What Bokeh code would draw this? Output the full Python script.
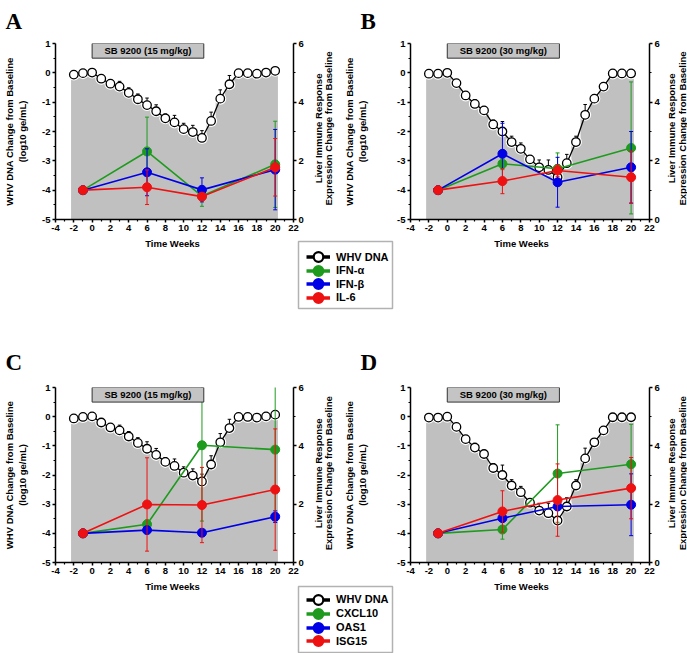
import math
from bokeh.plotting import figure
from bokeh.models import (Range1d, LinearAxis, FixedTicker, Label, Legend, LegendItem,
                          BoxAnnotation)
from bokeh.layouts import column, row
from bokeh.embed import file_html
from bokeh.resources import INLINE
from bokeh.core.properties import value

# ---------------- data ----------------
whv_weeks = list(range(-2, 21))
whv_15mg = [-0.06, -0.01, 0.01, -0.20, -0.37, -0.47, -0.68, -0.90, -1.10, -1.31, -1.55, -1.69,
            -1.92, -2.02, -2.22, -1.64, -0.88, -0.39, -0.01, -0.01, -0.03, 0.01, 0.07]
whv_15mg_err = [0.05, 0.0, 0.0, 0.05, 0.08, 0.18, 0.17, 0.18, 0.24, 0.22, 0.15, 0.24,
                0.20, 0.23, 0.25, 0.30, 0.30, 0.30, 0.05, 0.0, 0.08, 0.0, 0.0]
whv_30mg = [-0.03, -0.03, 0.00, -0.35, -0.77, -1.06, -1.28, -1.76, -2.00, -2.36, -2.59, -2.95,
            -3.22, -3.31, -3.56, -3.08, -2.36, -1.43, -0.88, -0.47, -0.02, -0.02, -0.02]
whv_30mg_err = [0.10, 0.0, 0.0, 0.0, 0.10, 0.15, 0.12, 0.15, 0.34, 0.20, 0.20, 0.10,
                0.25, 0.34, 0.10, 0.30, 0.20, 0.35, 0.10, 0.05, 0.10, 0.0, 0.0]

cyto_weeks = [-1, 6, 12, 20]

# Panel A (15 mg/kg) : IFN-alpha, IFN-beta, IL-6
a_ifna = [1.0, 2.32, 0.80, 1.88]
a_ifna_err = [0.0, 1.17, 0.35, 1.47]
a_ifnb = [1.0, 1.61, 1.01, 1.70]
a_ifnb_err = [0.0, 0.80, 0.41, 1.37]
a_il6 = [1.0, 1.10, 0.78, 1.78]
a_il6_err = [0.0, 0.59, 0.10, 0.98]

# Panel B (30 mg/kg)
b_ifna = [1.0, 1.90, 1.73, 2.44]
b_ifna_err = [0.0, 0.20, 0.54, 2.25]
b_ifnb = [1.0, 2.24, 1.27, 1.78]
b_ifnb_err = [0.0, 1.04, 0.85, 1.22]
b_il6 = [1.0, 1.31, 1.67, 1.44]
b_il6_err = [0.0, 0.43, 0.20, 0.89]

# Panel C (15 mg/kg) : CXCL10, OAS1, ISG15
c_cxcl10 = [1.0, 1.31, 4.02, 3.87]
c_cxcl10_err = [0.0, 0.15, 2.60, 2.40]
c_oas1 = [1.0, 1.11, 1.02, 1.57]
c_oas1_err = [0.0, 0.05, 0.05, 0.20]
c_isg15 = [1.0, 1.99, 1.97, 2.50]
c_isg15_err = [0.0, 1.60, 1.29, 2.08]

# Panel D (30 mg/kg)
d_cxcl10 = [1.0, 1.13, 3.05, 3.37]
d_cxcl10_err = [0.0, 0.33, 1.67, 1.37]
d_oas1 = [1.0, 1.52, 1.92, 1.98]
d_oas1_err = [0.0, 0.05, 0.10, 1.06]
d_isg15 = [1.0, 1.75, 2.14, 2.55]
d_isg15_err = [0.0, 0.71, 1.24, 1.05]

treatment_labels = ["SB 9200 (15 mg/kg)", "SB 9200 (30 mg/kg)"]
treatment_weeks = [0, 12.2]
treatment_box_y = [0.5, 1.0]

x_ticks = [-4, -2, 0, 2, 4, 6, 8, 10, 12, 14, 16, 18, 20, 22]
x_minor = [-3, -1, 1, 3, 5, 7, 9, 11, 13, 15, 17, 19, 21]
y_ticks = [-5, -4, -3, -2, -1, 0, 1]
y_minor = [-4.5, -3.5, -2.5, -1.5, -0.5, 0.5]
r_ticks = [0, 2, 4, 6]
r_minor = [1, 3, 5]

panel_letters = ["A", "B", "C", "D"]
left_axis_title = "WHV DNA Change from Baseline\n(log10 ge/mL)"
right_axis_lines = ["Liver Immune Response", "Expression Change from Baseline"]
x_axis_title = "Time Weeks"
legend1_labels = ["WHV DNA", "IFN-\u03b1", "IFN-\u03b2", "IL-6"]
legend2_labels = ["WHV DNA", "CXCL10", "OAS1", "ISG15"]

# ---------------- style ----------------
FONT = "Liberation Sans"
GREEN = "#1e9b1e"
BLUE = "#0000e6"
RED = "#ee1111"
GRAY = "#c0c0c0"
SERIES_COLORS = [GREEN, BLUE, RED]


def style_axis(ax, ticks, minor):
    ax.ticker = FixedTicker(ticks=ticks, minor_ticks=minor)
    ax.major_label_overrides = {t: str(t) for t in ticks}
    ax.axis_line_width = 1.5
    ax.axis_line_color = "black"
    ax.major_tick_line_width = 1.5
    ax.major_tick_line_color = "black"
    ax.minor_tick_line_width = 1.2
    ax.minor_tick_line_color = "black"
    ax.major_tick_in = 0
    ax.major_tick_out = 3
    ax.minor_tick_in = 0
    ax.minor_tick_out = 2
    ax.major_label_standoff = 2
    ax.major_label_text_font = FONT
    ax.major_label_text_font_style = "bold"
    ax.major_label_text_font_size = "9.5px"
    ax.major_label_text_color = "black"
    ax.axis_label_text_font = FONT
    ax.axis_label_text_font_style = "bold"
    ax.axis_label_text_font_size = "9.5px"
    ax.axis_label_text_color = "black"


def make_panel(dose_label, whv, whv_err, series, width, height,
               mb_left, mb_right, mb_top, mb_bottom, left_std):
    p = figure(width=width, height=height, x_range=Range1d(-4, 22), y_range=Range1d(-5, 1),
               output_backend="svg", toolbar_location=None,
               min_border_left=mb_left, min_border_right=mb_right,
               min_border_top=mb_top, min_border_bottom=mb_bottom)
    p.extra_y_ranges = {"right": Range1d(0, 6)}
    p.outline_line_color = None
    p.grid.visible = False
    p.background_fill_color = "white"
    p.border_fill_color = "white"

    style_axis(p.xaxis[0], x_ticks, x_minor)
    ly = p.yaxis[0]
    style_axis(ly, y_ticks, y_minor)
    ly.axis_label = left_axis_title
    ly.axis_label_standoff = left_std

    ry = LinearAxis(y_range_name="right")
    style_axis(ry, r_ticks, r_minor)
    p.add_layout(ry, "right")

    # grey area under the WHV DNA curve
    xa = [whv_weeks[0] - 0.3] + whv_weeks + [whv_weeks[-1] + 0.3]
    ya = [whv[0]] + whv + [whv[-1]]
    p.varea_step(x=xa, y1=[-5] * len(xa), y2=ya, step_mode="center",
                 fill_color=GRAY, fill_alpha=1.0)
    # white halo round the WHV markers
    p.scatter(whv_weeks, whv, marker="circle", size=12, fill_color="white", line_color=None)

    # WHV error bars (upward)
    ex = [w for w, e in zip(whv_weeks, whv_err) if e > 0]
    ey0 = [v for v, e in zip(whv, whv_err) if e > 0]
    ey1 = [v + e for v, e in zip(whv, whv_err) if e > 0]
    p.segment(x0=ex, y0=ey0, x1=ex, y1=ey1, line_color="black", line_width=1)
    p.scatter(ex, ey1, marker="dash", size=3.5, line_color="black", line_width=1)

    p.line(whv_weeks, whv, line_color="black", line_width=1.3)
    p.scatter(whv_weeks, whv, marker="circle", size=8.5, fill_color="white",
              line_color="black", line_width=1.3)

    for (vals, errs), col in zip(series, SERIES_COLORS):
        sx = [w for w, e in zip(cyto_weeks, errs) if e > 0]
        lo = [v - e for v, e in zip(vals, errs) if e > 0]
        hi = [v + e for v, e in zip(vals, errs) if e > 0]
        p.segment(x0=sx, y0=lo, x1=sx, y1=hi, line_color=col, line_width=1, y_range_name="right")
        p.scatter(sx + sx, lo + hi, marker="dash", size=4, line_color=col, line_width=1,
                  y_range_name="right")
        p.line(cyto_weeks, vals, line_color=col, line_width=1.6, y_range_name="right")
        p.scatter(cyto_weeks, vals, marker="circle", size=9, fill_color=col, line_color=col,
                  line_width=1, y_range_name="right")

    # treatment box
    p.quad(left=[treatment_weeks[0]], right=[treatment_weeks[1]],
           bottom=[treatment_box_y[0]], top=[treatment_box_y[1]],
           fill_color="#c4c4c4", line_color="#333333", line_width=1)
    p.text(x=[(treatment_weeks[0] + treatment_weeks[1]) / 2],
           y=[(treatment_box_y[0] + treatment_box_y[1]) / 2], text=[dose_label],
           text_font=value(FONT), text_font_style="bold", text_font_size="9.5px",
           text_align="center", text_baseline="middle", text_color="black")
    return p


def blank(width, height):
    b = figure(width=width, height=height, x_range=Range1d(0, width), y_range=Range1d(0, height),
               x_axis_type=None, y_axis_type=None, output_backend="svg",
               toolbar_location=None, min_border=0)
    b.outline_line_color = None
    b.grid.visible = False
    b.background_fill_color = "white"
    b.border_fill_color = "white"
    return b


def side_title(width, height, y_center, xs):
    s = blank(width, height)
    for x, txt in zip(xs, right_axis_lines):
        s.add_layout(Label(x=x, y=y_center, text=txt, angle=math.pi / 2, text_font=FONT,
                           text_font_style="bold", text_font_size="9.5px",
                           text_align="center", text_baseline="middle", text_color="black"))
    return s


TOTAL_W = 687
# column geometry
A_ML, A_FW, A_MR = 50, 244, 12
B_ML, B_FW, B_MR = 65, 245, 12
A_W = A_ML + A_FW + A_MR          # 306
SA_W = 340 - A_W                  # 34
B_W = B_ML + B_FW + B_MR          # 322
SB_W = TOTAL_W - 340 - B_W        # 25
TIME_X = [A_ML + A_FW / 2, 521]
LETTER_X = [5, 360]


def add_letters(b, letters, y):
    for lx, letter in zip(LETTER_X, letters):
        b.add_layout(Label(x=lx, y=y, text=letter, text_font="Liberation Serif",
                           text_font_style="bold", text_font_size="23px", text_align="left",
                           text_baseline="alphabetic", text_color="black"))


def add_time_labels(b, y):
    for cx in TIME_X:
        b.add_layout(Label(x=cx, y=y, text=x_axis_title, text_font=FONT,
                           text_font_style="bold", text_font_size="9.5px",
                           text_align="center", text_baseline="middle", text_color="black"))


def add_legend(b, labels, box, centers, glyph_left):
    frame = BoxAnnotation(left=box[0], right=box[1], bottom=box[2], top=box[3],
                          fill_color="white", fill_alpha=1.0, line_color="black",
                          line_width=1.5, level="underlay")
    b.add_layout(frame)
    nan = float("nan")
    styles = [("black", "white")] + [(c, c) for c in SERIES_COLORS]
    for lab, (lc, fc), cy in zip(labels, styles, centers):
        ln = b.line(x=[nan], y=[nan], line_color=lc, line_width=3.5)
        sc = b.scatter(x=[nan], y=[nan], marker="circle", size=10, fill_color=fc,
                       line_color=lc, line_width=2.2)
        leg = Legend(items=[LegendItem(label=lab, renderers=[ln, sc])],
                     location=(glyph_left, cy - 12.5), margin=0, padding=0, spacing=0,
                     glyph_width=24, glyph_height=25, label_height=25, label_width=50,
                     label_standoff=6, label_text_font=FONT, label_text_font_style="bold",
                     label_text_font_size="11px", label_text_color="black",
                     border_line_color=None, background_fill_alpha=0.0)
        b.add_layout(leg)


TOP_BAND_H = 33
ROW1_H = 203   # 10 + 176 + 17
BAND1_H = 138
ROW2_H = 205   # 13 + 175 + 17
BAND2_H = 74

band0 = blank(TOTAL_W, TOP_BAND_H)
add_letters(band0, panel_letters[:2], 12.5)

pA = make_panel(treatment_labels[0], whv_15mg, whv_15mg_err,
                [(a_ifna, a_ifna_err), (a_ifnb, a_ifnb_err), (a_il6, a_il6_err)],
                A_W, ROW1_H, A_ML, A_MR, 10, 17, 11)
pB = make_panel(treatment_labels[1], whv_30mg, whv_30mg_err,
                [(b_ifna, b_ifna_err), (b_ifnb, b_ifnb_err), (b_il6, b_il6_err)],
                B_W, ROW1_H, B_ML, B_MR, 10, 17, 26)
sA1 = side_title(SA_W, ROW1_H, 17 + 88, [12, 22])
sB1 = side_title(SB_W, ROW1_H, 17 + 88, [9, 19.5])

band1 = blank(TOTAL_W, BAND1_H)
add_time_labels(band1, BAND1_H - 7)
add_legend(band1, legend1_labels, (298, 392, 66, 133), [117.3, 103.8, 90.5, 77.0], 306)
add_letters(band1, panel_letters[2:], 12)

pC = make_panel(treatment_labels[0], whv_15mg, whv_15mg_err,
                [(c_cxcl10, c_cxcl10_err), (c_oas1, c_oas1_err), (c_isg15, c_isg15_err)],
                A_W, ROW2_H, A_ML, A_MR, 13, 17, 11)
pD = make_panel(treatment_labels[1], whv_30mg, whv_30mg_err,
                [(d_cxcl10, d_cxcl10_err), (d_oas1, d_oas1_err), (d_isg15, d_isg15_err)],
                B_W, ROW2_H, B_ML, B_MR, 13, 17, 26)
sC2 = side_title(SA_W, ROW2_H, 17 + 87.5, [12, 22])
sD2 = side_title(SB_W, ROW2_H, 17 + 87.5, [9, 19.5])

band2 = blank(TOTAL_W, BAND2_H)
add_time_labels(band2, BAND2_H - 7)
add_legend(band2, legend2_labels, (298, 392, 1, 67), [53.7, 39.7, 25.7, 12.2], 306)

layout = column(band0, row(pA, sA1, pB, sB1), band1, row(pC, sC2, pD, sD2), band2)

open("out.html", "w").write(file_html(layout, INLINE))
